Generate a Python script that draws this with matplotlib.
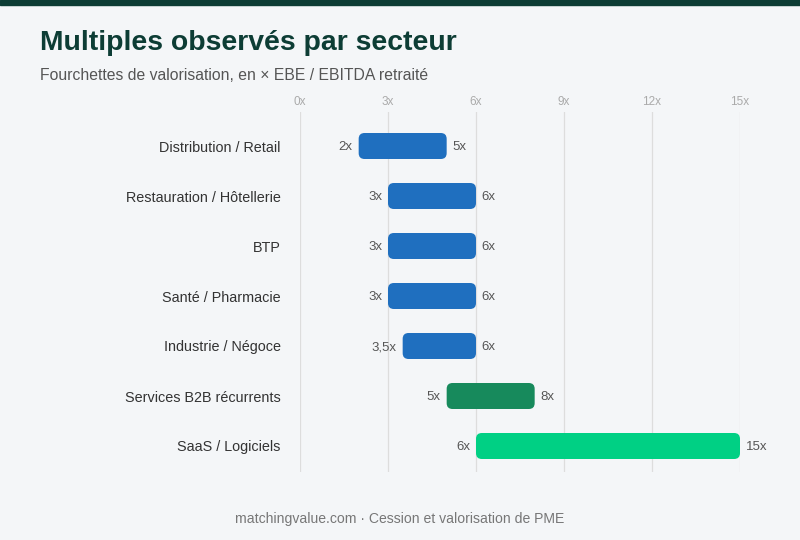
import matplotlib.pyplot as plt
from matplotlib.patches import FancyBboxPatch, Rectangle

plt.rcParams['font.family'] = ['Liberation Sans', 'DejaVu Sans']

# data
sectors = ["Distribution / Retail", "Restauration / Hôtellerie", "BTP", "Santé / Pharmacie",
           "Industrie / Négoce", "Services B2B récurrents", "SaaS / Logiciels"]
low = [2, 3, 3, 3, 3.5, 5, 6]
high = [5, 6, 6, 6, 6, 8, 15]
low_labels = ["2x", "3x", "3x", "3x", "3,5x", "5x", "6x"]
high_labels = ["5x", "6x", "6x", "6x", "6x", "8x", "15x"]
colors = ["#1f6fbf", "#1f6fbf", "#1f6fbf", "#1f6fbf", "#1f6fbf", "#178a5c", "#00d084"]
ticks = [0, 3, 6, 9, 12, 15]
tick_labels = ["0x", "3x", "6x", "9x", "12x", "15x"]

bg = "#f4f6f8"
fig = plt.figure(figsize=(8, 5.4), dpi=100, facecolor=bg)

# dark top band
fig.patches.append(Rectangle((0, 1 - 5 / 540), 1, 5 / 540, transform=fig.transFigure,
                             color="#0d3d35", zorder=0))

fig.text(40 / 800, 1 - 43 / 540, "Multiples observés par secteur", fontsize=20.4, fontweight="bold",
         color="#0d3d35", va="center", ha="left")
fig.text(40 / 800, 1 - 76 / 540, "Fourchettes de valorisation, en × EBE / EBITDA retraité",
         fontsize=11.3, color="#555555", va="center", ha="left")
fig.text(0.5, 1 - 519 / 540, "matchingvalue.com · Cession et valorisation de PME",
         fontsize=10.1, color="#777777", va="center", ha="center")

# axes: x 0 -> 300px, 15 -> 740px ; y from 112 to 472 px
ax = fig.add_axes([300 / 800, 1 - 472 / 540, 440 / 800, 360 / 540])
ax.set_facecolor(bg)
ax.set_xlim(0, 15)
ax.set_ylim(6.52, -0.68)

for t in ticks:
    ax.axvline(t, color="#dddddd", lw=0.9, zorder=0)

h = 0.52
for i, (lo, hi, c) in enumerate(zip(low, high, colors)):
    box = FancyBboxPatch((lo, i - h / 2), hi - lo, h,
                         boxstyle="round,pad=0,rounding_size=0.2",
                         mutation_aspect=0.59, facecolor=c, edgecolor="none", zorder=3)
    ax.add_patch(box)
    ax.text(lo - 0.2, i, low_labels[i], ha="right", va="center_baseline", fontsize=9.5, color="#555555")
    ax.text(hi + 0.2, i, high_labels[i], ha="left", va="center_baseline", fontsize=9.5, color="#555555")

ax.set_yticks(range(len(sectors)))
ax.set_yticklabels(sectors, fontsize=10.4, color="#333333")
ax.set_xticks(ticks)
ax.set_xticklabels(tick_labels, fontsize=8.5, color="#aaaaaa")
ax.xaxis.tick_top()
ax.tick_params(axis="both", length=0)
ax.tick_params(axis="y", pad=14)
ax.tick_params(axis="x", pad=3)
for s in ax.spines.values():
    s.set_visible(False)

fig.savefig("out.png", dpi=100, facecolor=bg)
